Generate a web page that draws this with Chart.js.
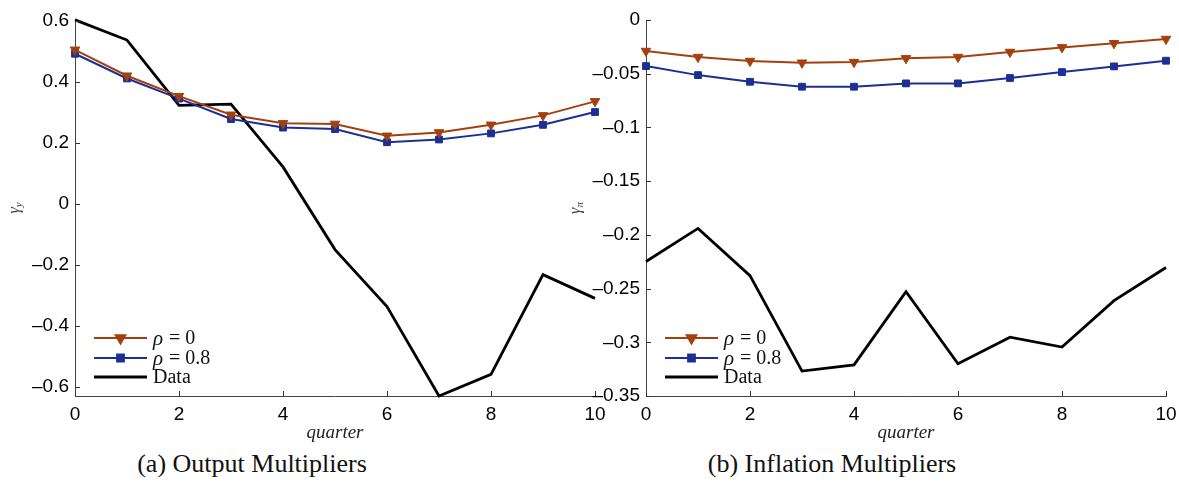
<!DOCTYPE html>
<html>
<head>
<meta charset="utf-8">
<script src="https://cdn.jsdelivr.net/npm/chart.js@4.4.0/dist/chart.umd.min.js"></script>
<style>
body { margin: 0; background: #fff; width: 1179px; height: 485px; position: relative; overflow: hidden; }
#left { position: absolute; left: 0; top: 0; }
#right { position: absolute; left: 550px; top: 0; }
.cap { position: absolute; top: 449px; font: 26px 'Liberation Serif', serif; color: #111; white-space: nowrap; transform: translateX(-50%); }
</style>
</head>
<body>
<canvas id="left" width="615" height="445"></canvas>
<canvas id="right" width="636" height="445"></canvas>
<div class="cap" style="left:252px">(a) Output Multipliers</div>
<div class="cap" style="left:832px">(b) Inflation Multipliers</div>
<script>
/* x values (quarters) */
const quarters = [0, 1, 2, 3, 4, 5, 6, 7, 8, 9, 10];

/* output multipliers */
const outRho0  = [0.505, 0.420, 0.353, 0.292, 0.264, 0.262, 0.223, 0.234, 0.259, 0.290, 0.336];
const outRho08 = [0.492, 0.411, 0.345, 0.278, 0.250, 0.245, 0.202, 0.211, 0.231, 0.259, 0.301];
const outData  = [0.603, 0.537, 0.323, 0.327, 0.121, -0.150, -0.337, -0.630, -0.559, -0.232, -0.310];

/* inflation multipliers */
const infRho0  = [-0.0289, -0.0345, -0.0382, -0.0398, -0.0392, -0.0357, -0.0345, -0.0298, -0.0255, -0.0217, -0.0177];
const infRho08 = [-0.0429, -0.0513, -0.0575, -0.0621, -0.0621, -0.0590, -0.0590, -0.0540, -0.0485, -0.0432, -0.0379];
const infData  = [-0.2248, -0.194, -0.238, -0.3268, -0.321, -0.2528, -0.320, -0.2953, -0.3044, -0.2612, -0.2304];

const seriesNames = ['ρ = 0', 'ρ = 0.8', 'Data'];
const orange = '#a3400e';
const blue = '#1b2f94';

const tickFont = { family: "'Liberation Sans', Arial, sans-serif", size: 19 };

/* pair quarters with values */
function pts(vals) {
    return quarters.map((q, i) => ({ x: q, y: vals[i] }));
}

/* tick label like 0.6, –0.05 */
function fmt(v) {
    if (Math.abs(v) < 1e-9) return '0';
    const s = String(parseFloat(Math.abs(v).toFixed(3)));
    return (v < 0 ? '\u2013' : '') + s;
}

/* inward ticks, rotated y label, legend in the lower left */
const decor = {
    id: 'decor',
    afterDraw(chart, args, opts) {
        const { ctx, chartArea: a, scales: { x, y } } = chart;
        ctx.save();
        ctx.strokeStyle = '#333';
        ctx.lineWidth = 1;
        ctx.beginPath();
        x.ticks.forEach(t => {
            const px = Math.round(x.getPixelForValue(t.value)) + 0.5;
            ctx.moveTo(px, a.bottom);
            ctx.lineTo(px, a.bottom - 5);
        });
        y.ticks.forEach(t => {
            const py = Math.round(y.getPixelForValue(t.value)) + 0.5;
            ctx.moveTo(a.left, py);
            ctx.lineTo(a.left + 5, py);
        });
        ctx.stroke();

        // y label: gamma with subscript
        ctx.save();
        ctx.translate(opts.titleX, 208);
        ctx.rotate(-Math.PI / 2);
        ctx.fillStyle = '#444';
        ctx.textBaseline = 'alphabetic';
        ctx.font = "italic 16px 'Liberation Serif', serif";
        const gw = ctx.measureText('γ').width;
        ctx.font = "italic 11px 'Liberation Serif', serif";
        const sw = ctx.measureText(opts.sub).width;
        const x0 = -(gw + sw) / 2;
        ctx.font = "italic 16px 'Liberation Serif', serif";
        ctx.fillText('γ', x0, 3);
        ctx.font = "italic 11px 'Liberation Serif', serif";
        ctx.fillText(opts.sub, x0 + gw, 6);
        ctx.restore();

        // legend
        const lx = a.left + 19;
        const rows = [338, 358, 377];
        chart.data.datasets.forEach((ds, i) => {
            const ly = rows[i];
            ctx.strokeStyle = ds.borderColor;
            ctx.lineWidth = ds.borderWidth;
            ctx.beginPath();
            ctx.moveTo(lx, ly);
            ctx.lineTo(lx + 53, ly);
            ctx.stroke();
            if (ds.pointRadius > 0) {
                Chart.helpers.drawPoint(ctx, {
                    pointStyle: ds.pointStyle,
                    rotation: ds.pointRotation || 0,
                    radius: ds.pointRadius,
                    borderWidth: 1
                }, lx + 26.5, ly);
                ctx.fillStyle = ds.pointBackgroundColor;
                ctx.fill();
            }
            ctx.fillStyle = '#111';
            ctx.textBaseline = 'middle';
            let tx = lx + 59;
            let label = ds.label;
            if (label.startsWith('ρ')) {
                ctx.font = "italic 21px 'Liberation Serif', serif";
                ctx.fillText('ρ', tx, ly + 1);
                tx += ctx.measureText('ρ').width + 1;
                label = label.slice(1);
            }
            ctx.font = "20px 'Liberation Serif', serif";
            ctx.fillText(label, tx, ly + 1);
        });
        ctx.restore();
    }
};

function makeChart(id, vals, yMin, yMax, yStep, yWidth, padTop, sub, titleX) {
    const ctx = document.getElementById(id).getContext('2d');
    return new Chart(ctx, {
        type: 'line',
        data: {
            datasets: [
                {
                    label: seriesNames[0], data: pts(vals[0]),
                    borderColor: orange, backgroundColor: orange, borderWidth: 2,
                    pointStyle: 'triangle', pointRotation: 180, pointRadius: 5.5,
                    pointBackgroundColor: orange, pointBorderColor: orange, pointBorderWidth: 1
                },
                {
                    label: seriesNames[1], data: pts(vals[1]),
                    borderColor: blue, backgroundColor: blue, borderWidth: 2,
                    pointStyle: 'rect', pointRadius: 4.8,
                    pointBackgroundColor: blue, pointBorderColor: blue, pointBorderWidth: 1
                },
                {
                    label: seriesNames[2], data: pts(vals[2]),
                    borderColor: '#000', backgroundColor: '#000', borderWidth: 2.8,
                    pointRadius: 0
                }
            ]
        },
        options: {
            responsive: false,
            animation: false,
            devicePixelRatio: 1,
            clip: false,
            layout: { padding: { top: padTop, right: 20, left: 0, bottom: 0 } },
            plugins: {
                legend: { display: false },
                tooltip: { enabled: false },
                decor: { sub: sub, titleX: titleX }
            },
            scales: {
                x: {
                    type: 'linear', min: 0, max: 10,
                    afterFit: s => { s.height = 49; },
                    ticks: { stepSize: 2, font: tickFont, color: '#000', padding: 7, maxRotation: 0 },
                    grid: { drawOnChartArea: false, drawTicks: false },
                    border: { color: '#444', width: 1 },
                    title: {
                        display: true, text: 'quarter', color: '#222',
                        font: { family: "'Liberation Serif', serif", size: 19, style: 'italic' },
                        padding: { top: 0, bottom: 1 }
                    }
                },
                y: {
                    type: 'linear', min: yMin, max: yMax,
                    afterFit: s => { s.width = yWidth; },
                    ticks: { stepSize: yStep, includeBounds: false, font: tickFont, color: '#000', padding: 6, callback: fmt },
                    grid: { drawOnChartArea: false, drawTicks: false },
                    border: { color: '#444', width: 1 }
                }
            }
        },
        plugins: [decor]
    });
}

makeChart('left', [outRho0, outRho08, outData], -0.63, 0.606, 0.2, 75, 19, 'y', 16);
makeChart('right', [infRho0, infRho08, infData], -0.35, 0, 0.05, 96, 20, 'π', 27);
</script>
</body>
</html>
